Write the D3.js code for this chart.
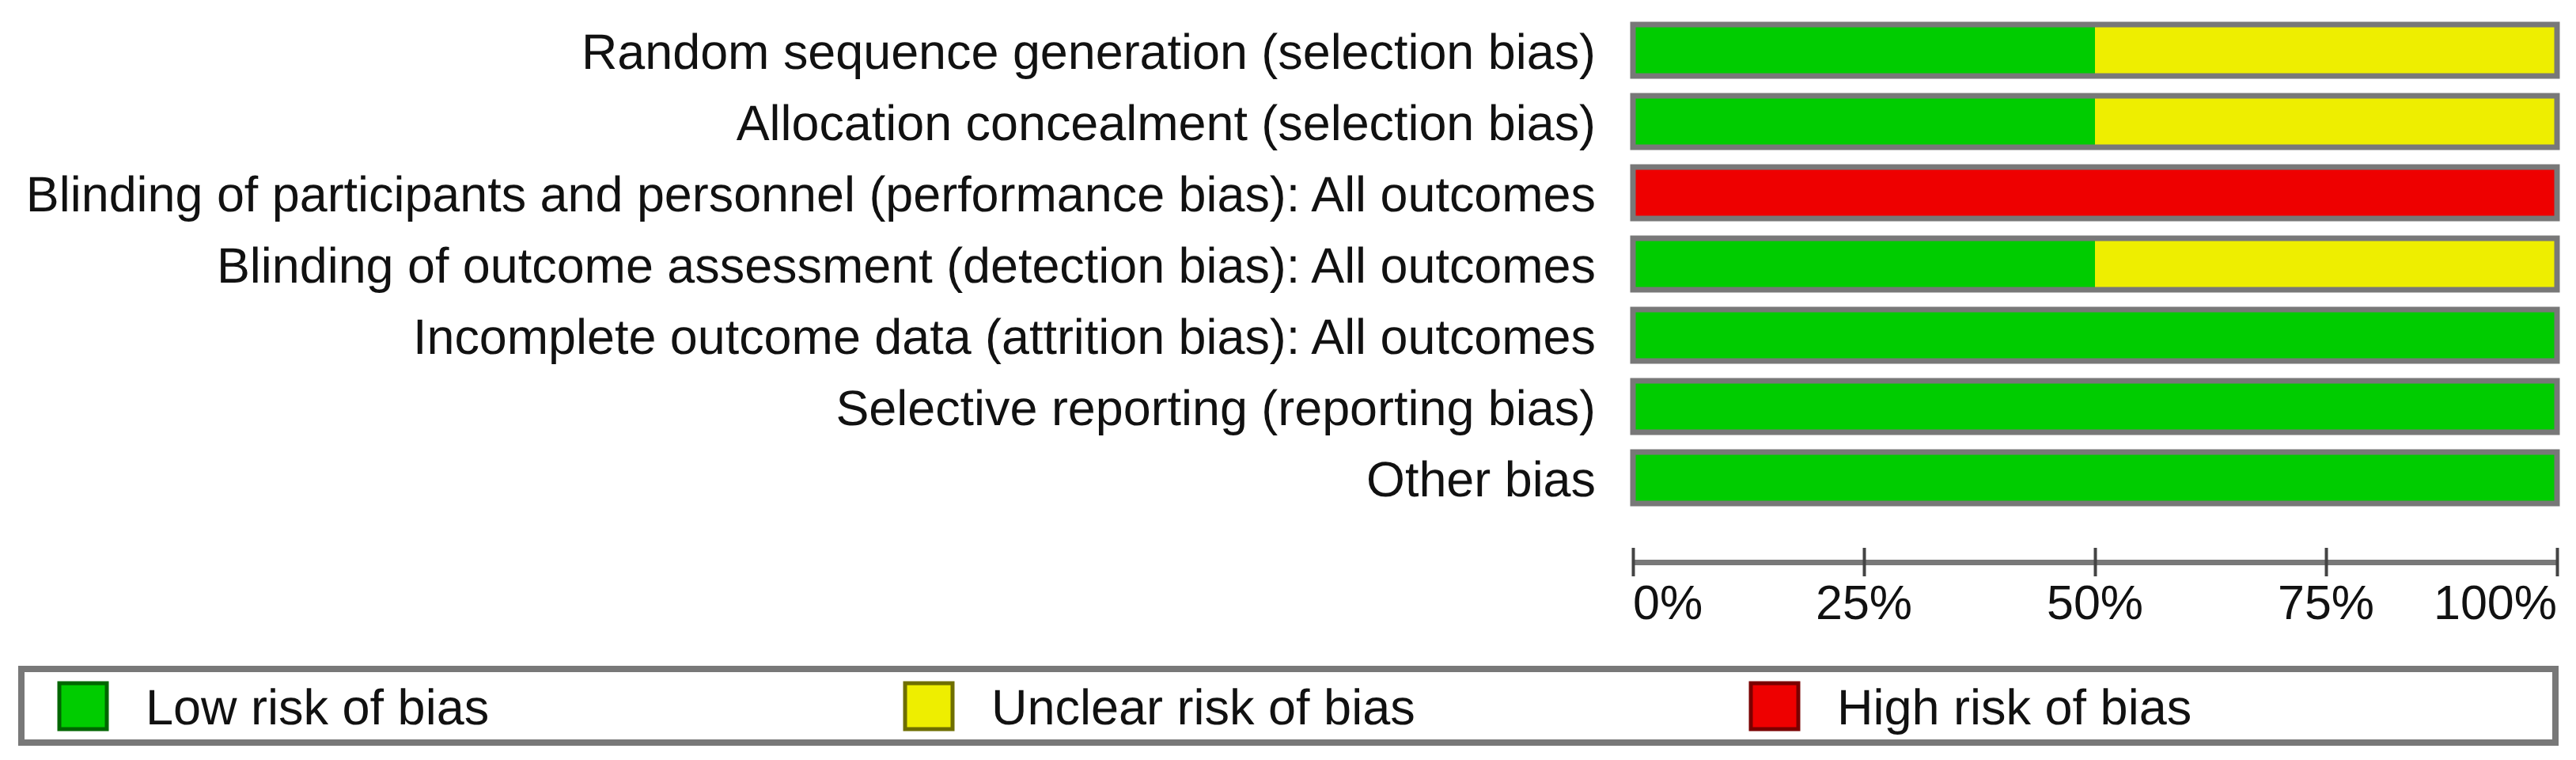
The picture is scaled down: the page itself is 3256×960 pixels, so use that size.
<!DOCTYPE html>
<html>
<head>
<meta charset="utf-8">
<script src="https://cdn.jsdelivr.net/npm/d3@7"></script>
<style>
  body { margin: 0; background: #fff; }
  text { font-family: "Liberation Sans", Arial, sans-serif; fill: #111; text-rendering: geometricPrecision; }
</style>
</head>
<body>
<div id="chart"></div>
<script>
// risk of bias domains, top to bottom
var domains = [
    'Random sequence generation (selection bias)',
    'Allocation concealment (selection bias)',
    'Blinding of participants and personnel (performance bias): All outcomes',
    'Blinding of outcome assessment (detection bias): All outcomes',
    'Incomplete outcome data (attrition bias): All outcomes',
    'Selective reporting (reporting bias)',
    'Other bias'
];
// share of studies in each judgement (percent)
var lowRisk     = [50, 50, 0, 50, 100, 100, 100];
var unclearRisk = [50, 50, 0, 50, 0, 0, 0];
var highRisk    = [0, 0, 100, 0, 0, 0, 0];

var tickValues = [0, 25, 50, 75, 100];
var tickLabels = ['0%', '25%', '50%', '75%', '100%'];

var legendLabels = ['Low risk of bias', 'Unclear risk of bias', 'High risk of bias'];

var col_green  = '#00CC00';
var col_yellow = '#EEEE00';
var col_red    = '#EE0000';
var col_border = '#787878';
var fillColors = [col_green, col_yellow, col_red];
var edgeColors = ['#006600', '#6e6e00', '#7a0000'];

var width = 3256, height = 960;
var labelSize = 62.85;
var tickSize = 61;
var legendSize = 63;

var svg = d3.select('#chart').append('svg')
    .attr('width', width)
    .attr('height', height);

var x = d3.scaleLinear()
    .domain([0, 100])
    .range([2064, 3232]);

var y = d3.scaleBand()
    .domain(domains)
    .range([18.5, 648.5])
    .paddingInner(25 / 90)
    .paddingOuter(12.5 / 90);

// stack the three judgements per domain
var rows = domains.map(function (d, i) {
    return {name: d, values: [lowRisk[i], unclearRisk[i], highRisk[i]]};
});

var bars = svg.append('g').selectAll('g')
    .data(rows)
    .enter().append('g');

bars.each(function (r) {
    var g = d3.select(this);
    var start = 0;
    r.values.forEach(function (v, k) {
        if (v > 0) {
            g.append('rect')
                .attr('x', x(start))
                .attr('y', y(r.name))
                .attr('width', x(start + v) - x(start))
                .attr('height', y.bandwidth())
                .attr('fill', fillColors[k]);
        }
        start += v;
    });
    g.append('rect')
        .attr('x', x(0))
        .attr('y', y(r.name))
        .attr('width', x(100) - x(0))
        .attr('height', y.bandwidth())
        .attr('fill', 'none')
        .attr('stroke', col_border)
        .attr('stroke-width', 7);
});

// domain labels
svg.append('g').selectAll('text')
    .data(domains)
    .enter().append('text')
    .attr('x', 2017)
    .attr('y', function (d) { return y(d) + y.bandwidth() / 2 + 23; })
    .attr('text-anchor', 'end')
    .style('font-size', labelSize + 'px')
    .text(function (d) { return d; });

// percentage axis
var axisY = 710;
var axis = svg.append('g')
    .attr('transform', 'translate(0,' + axisY + ')')
    .call(d3.axisBottom(x).tickValues(tickValues).tickSize(0).tickFormat(''));
axis.select('.domain')
    .attr('stroke', col_border)
    .attr('stroke-width', 7);
axis.selectAll('.tick line')
    .attr('y1', -18)
    .attr('y2', 18)
    .attr('stroke', '#444')
    .attr('stroke-width', 4);
axis.selectAll('.tick text').remove();

svg.append('g').selectAll('text')
    .data(tickValues)
    .enter().append('text')
    .attr('x', function (d) { return x(d); })
    .attr('y', 782)
    .attr('text-anchor', function (d, i) {
        if (i === 0) return 'start';
        if (i === tickValues.length - 1) return 'end';
        return 'middle';
    })
    .style('font-size', tickSize + 'px')
    .text(function (d, i) { return tickLabels[i]; });

// legend
var legendBox = {x: 27, y: 845, w: 3203, h: 93};
svg.append('rect')
    .attr('x', legendBox.x)
    .attr('y', legendBox.y)
    .attr('width', legendBox.w)
    .attr('height', legendBox.h)
    .attr('fill', '#fff')
    .attr('stroke', col_border)
    .attr('stroke-width', 8);

var legendX = d3.scaleBand()
    .domain(legendLabels)
    .range([legendBox.x - 2, legendBox.x - 2 + 3 * 1069]);

var items = svg.append('g').selectAll('g')
    .data(legendLabels)
    .enter().append('g')
    .attr('transform', function (d) { return 'translate(' + legendX(d) + ',0)'; });

items.append('rect')
    .attr('x', 50)
    .attr('y', 863)
    .attr('width', 60)
    .attr('height', 58)
    .attr('fill', function (d, i) { return fillColors[i]; })
    .attr('stroke', function (d, i) { return edgeColors[i]; })
    .attr('stroke-width', 5);

items.append('text')
    .attr('x', 159)
    .attr('y', 915)
    .style('font-size', legendSize + 'px')
    .text(function (d) { return d; });
</script>
</body>
</html>
